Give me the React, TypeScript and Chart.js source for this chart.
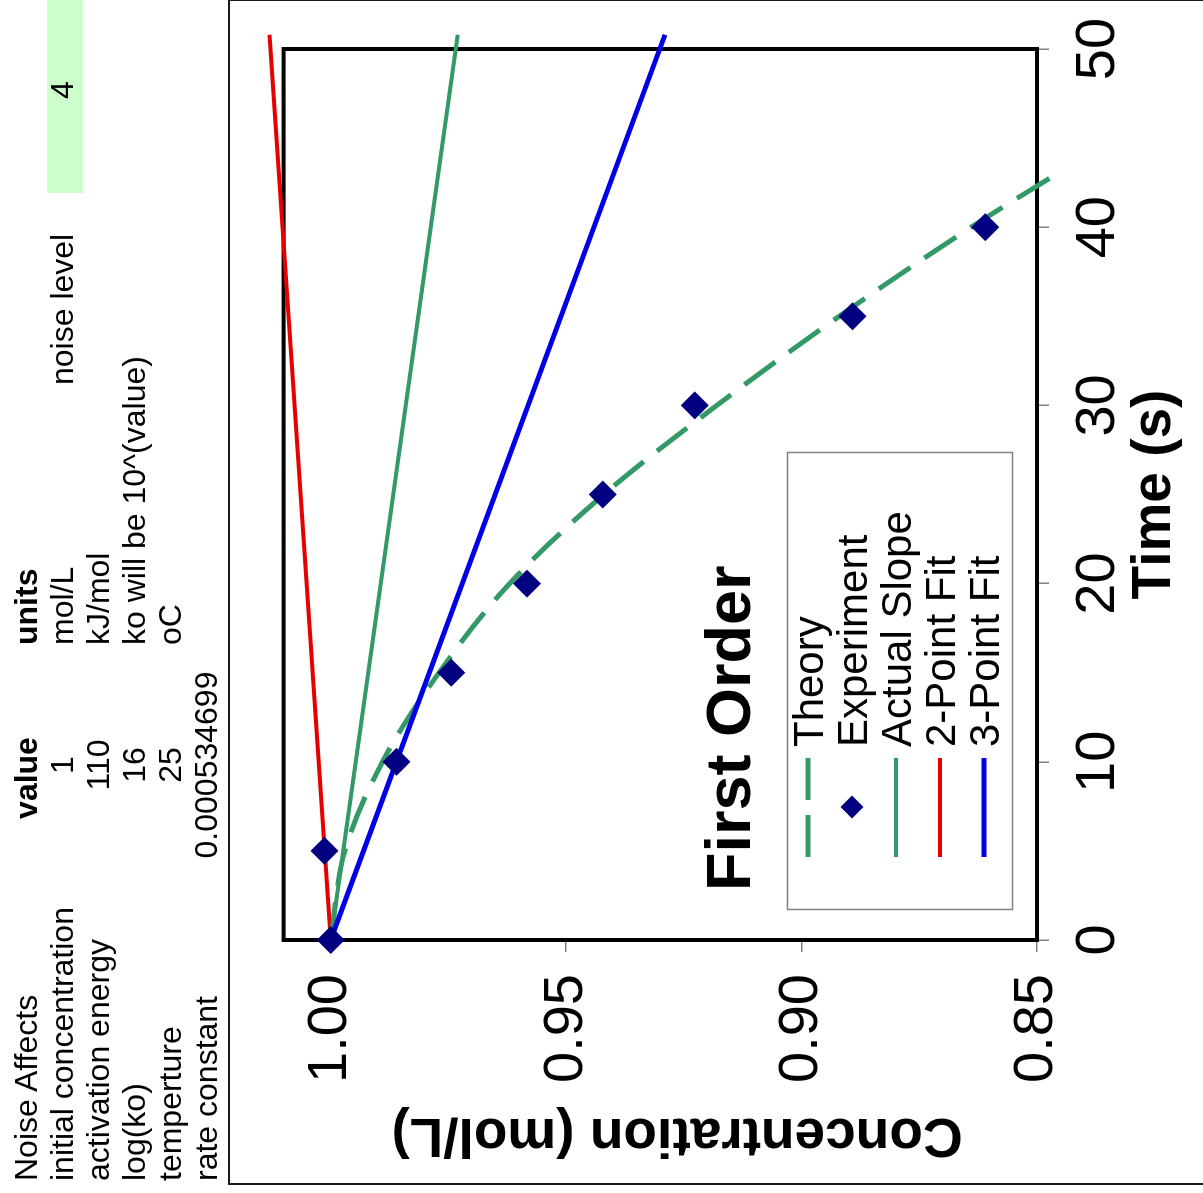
import React, { useEffect, useRef } from 'react';
import { Chart, registerables } from 'chart.js';

Chart.register(...registerables);

const FONT = '"Liberation Sans", Arial, Helvetica, sans-serif';

// ---- chart data ----
const timeTicks = [0, 10, 20, 30, 40, 50];
const concTicks = [0.85, 0.9, 0.95, 1.0];

const expTime = [0, 5, 10, 15, 20, 25, 30, 35, 40];
const expConc = [1.0, 1.0013, 0.986, 0.9744, 0.9583, 0.9422, 0.9227, 0.8892, 0.861];

const theoryTime = [0, 5, 10, 15, 20, 25, 30, 35, 40, 42.8];
const theoryConc = [1.0, 0.997, 0.989, 0.977, 0.962, 0.942, 0.918, 0.892, 0.864, 0.847];

const fitTime = [0, 50.8];
const actualSlopeConc = [1.0, 0.973];
const twoPointConc = [1.0, 1.013];
const threePointConc = [1.0, 0.929];

const seriesLabels = ['Theory', 'Experiment', 'Actual Slope', '2-Point Fit', '3-Point Fit'];

const chartTitle = 'First Order';
const xTitle = 'Time (s)';
const yTitle = 'Concentration (mol/L)';

// ---- spreadsheet cells ----
const sheetNames = ['Noise Affects', 'initial concentration', 'activation energy', 'log(ko)', 'temperture', 'rate constant'];
const sheetValues = ['value', '1', '110', '16', '25', '0.000534699'];
const sheetUnits = ['units', 'mol/L', 'kJ/mol', 'ko will be 10^(value)', 'oC', ''];
const noiseLabel = 'noise level';
const noiseValue = '4';

const pts = (xs: number[], ys: number[]) => xs.map((x, i) => ({ x, y: ys[i] }));

const decorPlugin = {
  id: 'decor',
  beforeDraw(chart: any) {
    const { ctx, width, height } = chart;
    ctx.save();
    ctx.fillStyle = '#ffffff';
    ctx.fillRect(0, 0, width, height);
    ctx.fillStyle = '#1a1a1a';
    ctx.fillRect(0, 0, 2, height);
    ctx.fillRect(0, 0, width, 2);
    ctx.fillRect(width - 2, 0, 2, height);
    ctx.restore();
  },
  beforeDatasetsDraw(chart: any) {
    const { ctx, chartArea: a } = chart;
    ctx.save();
    ctx.strokeStyle = '#000000';
    ctx.lineWidth = 4;
    ctx.strokeRect(a.left, a.top, a.right - a.left, a.bottom - a.top);
    ctx.restore();
  },
  afterDraw(chart: any) {
    const { ctx, chartArea: a } = chart;
    ctx.save();
    ctx.fillStyle = '#000';
    ctx.font = `bold 55px ${FONT}`;
    ctx.textAlign = 'center';
    ctx.textBaseline = 'alphabetic';
    ctx.fillText(xTitle, (a.left + a.right) / 2, 942);
    ctx.save();
    ctx.translate(66, 449);
    ctx.rotate(-Math.PI / 2);
    ctx.fillText(yTitle, 0, 0);
    ctx.restore();

    ctx.textAlign = 'left';
    ctx.font = `bold 63px ${FONT}`;
    ctx.fillText(chartTitle, 294, 522);

    const lx = 275, ly = 559, lw = 457, lh = 225;
    ctx.fillStyle = '#fff';
    ctx.fillRect(lx, ly, lw, lh);
    ctx.strokeStyle = '#808080';
    ctx.lineWidth = 1.5;
    ctx.strokeRect(lx + 0.5, ly + 0.5, lw, lh);
    const ds = chart.data.datasets;
    ds.forEach((d: any, i: number) => {
      const cy = 580 + i * 44;
      if (d.showLine === false) {
        const r = 11.5;
        ctx.fillStyle = d.backgroundColor;
        ctx.beginPath();
        ctx.moveTo(378 - r, cy);
        ctx.lineTo(378, cy - r);
        ctx.lineTo(378 + r, cy);
        ctx.lineTo(378, cy + r);
        ctx.closePath();
        ctx.fill();
      } else {
        ctx.strokeStyle = d.borderColor;
        ctx.lineWidth = d.borderWidth;
        ctx.setLineDash(d.borderDash ? [42, 15] : []);
        ctx.beginPath();
        ctx.moveTo(328, cy);
        ctx.lineTo(427, cy);
        ctx.stroke();
        ctx.setLineDash([]);
      }
      ctx.fillStyle = '#000';
      ctx.font = `42px ${FONT}`;
      ctx.textAlign = 'left';
      ctx.fillText(d.label, 438, cy + 14.5);
    });
    ctx.restore();
  },
};

function ChartCanvas() {
  const ref = useRef<HTMLCanvasElement | null>(null);
  useEffect(() => {
    if (!ref.current) return;
    const tickFont = { family: FONT, size: 56 };
    const chart = new Chart(ref.current, {
      type: 'scatter',
      data: {
        datasets: [
          {
            label: seriesLabels[0],
            data: pts(theoryTime, theoryConc),
            showLine: true,
            cubicInterpolationMode: 'monotone',
            borderColor: '#339966',
            backgroundColor: '#339966',
            borderWidth: 5,
            borderDash: [38, 17],
            pointRadius: 0,
            clip: false,
            order: 2,
          },
          {
            label: seriesLabels[1],
            data: pts(expTime, expConc),
            showLine: false,
            pointStyle: 'rectRot',
            pointRadius: 14,
            backgroundColor: '#000080',
            borderColor: '#000080',
            borderWidth: 0,
            clip: false,
            order: 0,
          },
          {
            label: seriesLabels[2],
            data: pts(fitTime, actualSlopeConc),
            showLine: true,
            borderColor: '#339966',
            backgroundColor: '#339966',
            borderWidth: 4,
            pointRadius: 0,
            clip: false,
            order: 3,
          },
          {
            label: seriesLabels[3],
            data: pts(fitTime, twoPointConc),
            showLine: true,
            borderColor: '#e60000',
            backgroundColor: '#e60000',
            borderWidth: 4,
            pointRadius: 0,
            clip: false,
            order: 4,
          },
          {
            label: seriesLabels[4],
            data: pts(fitTime, threePointConc),
            showLine: true,
            borderColor: '#0000e6',
            backgroundColor: '#0000e6',
            borderWidth: 5,
            pointRadius: 0,
            clip: false,
            order: 1,
          },
        ],
      },
      options: {
        animation: false,
        responsive: false,
        devicePixelRatio: 1,
        layout: { padding: { top: 54, right: 50, left: 0, bottom: 0 } },
        plugins: { legend: { display: false }, tooltip: { enabled: false } },
        scales: {
          x: {
            type: 'linear',
            min: 0,
            max: 50,
            afterBuildTicks: (s: any) => {
              s.ticks = timeTicks.map((v) => ({ value: v }));
            },
            afterFit: (s: any) => {
              s.height = 166;
            },
            ticks: { font: tickFont, color: '#000', padding: 16, maxRotation: 0, callback: (v: any) => String(v) },
            grid: { drawOnChartArea: false, drawTicks: true, tickLength: 12, color: '#808080', lineWidth: 1.5 },
            border: { display: false },
          },
          y: {
            type: 'linear',
            min: 0.85,
            max: 1.01,
            afterBuildTicks: (s: any) => {
              s.ticks = concTicks.map((v) => ({ value: v }));
            },
            afterFit: (s: any) => {
              s.width = 245;
            },
            ticks: { font: tickFont, color: '#000', padding: 22, callback: (v: any) => Number(v).toFixed(2) },
            grid: { drawOnChartArea: false, drawTicks: true, tickLength: 12, color: '#808080', lineWidth: 1.5 },
            border: { display: false },
          },
        },
      },
      plugins: [decorPlugin],
    } as any);
    return () => chart.destroy();
  }, []);
  return (
    <canvas
      ref={ref}
      width={1186}
      height={975}
      style={{ position: 'absolute', left: 8, top: 228, width: 1186, height: 975 }}
    />
  );
}

const FS = 32;
const baselineTop = (b: number) => b - Math.round(0.8465 * FS);
const rowBaselines = [37, 73, 109, 145, 181, 217];

function Cell({ text, left, baseline, bold, center }: { text: string; left: number; baseline: number; bold?: boolean; center?: boolean }) {
  const style: React.CSSProperties = {
    position: 'absolute',
    top: baselineTop(baseline),
    fontSize: FS,
    lineHeight: `${FS}px`,
    whiteSpace: 'nowrap',
    fontWeight: bold ? 700 : 400,
    color: '#000',
  };
  if (center) {
    style.left = left - 150;
    style.width = 300;
    style.textAlign = 'center';
  } else {
    style.left = left;
  }
  return <div style={style}>{text}</div>;
}

export default function App() {
  return (
    <div
      style={{
        position: 'fixed',
        left: 0,
        top: 0,
        width: 1193,
        height: 1203,
        transformOrigin: '0 0',
        transform: 'translateY(1193px) rotate(-90deg)',
        background: '#fff',
        overflow: 'hidden',
        fontFamily: FONT,
      }}
    >
      <div style={{ position: 'absolute', left: 1000, top: 47, width: 193, height: 36, background: '#CCFFCC' }} />
      {sheetNames.map((t, i) => (
        <Cell key={'n' + i} text={t} left={12} baseline={rowBaselines[i]} />
      ))}
      {sheetValues.map((t, i) => (
        <Cell key={'v' + i} text={t} left={i === 0 ? 415 : 428} baseline={rowBaselines[i]} bold={i === 0} center />
      ))}
      {sheetUnits.map((t, i) => (
        <Cell key={'u' + i} text={t} left={548} baseline={rowBaselines[i]} bold={i === 0} />
      ))}
      <Cell text={noiseLabel} left={808} baseline={rowBaselines[1]} />
      <Cell text={noiseValue} left={1103} baseline={rowBaselines[1]} center />
      <ChartCanvas />
    </div>
  );
}
